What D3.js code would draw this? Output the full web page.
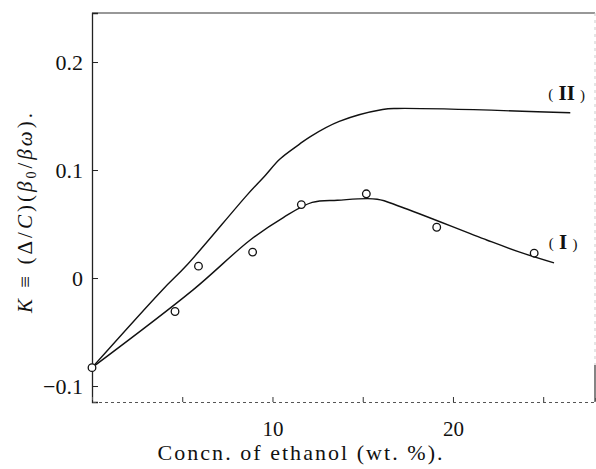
<!DOCTYPE html>
<html><head><meta charset="utf-8">
<script src="https://cdn.jsdelivr.net/npm/d3@7"></script>
<style>
body{margin:0;background:#fff;}
svg{display:block;}
text{font-family:"Liberation Serif","DejaVu Serif",serif;fill:#111;}
</style></head>
<body>
<svg id="c" width="596" height="469"></svg>
<script>
// Data
const pointsX = [0, 4.6, 5.9, 8.9, 11.6, 15.2, 19.1, 24.5];
const pointsY = [-0.083, -0.031, 0.011, 0.024, 0.068, 0.078, 0.047, 0.023];
const curveIX = [0, 5.6, 8.75, 10.6, 12.2, 13.6, 15.8, 17.1, 21.9, 23.7, 25.6];
const curveIY = [-0.083, -0.011, 0.035, 0.056, 0.070, 0.072, 0.073, 0.066, 0.035, 0.024, 0.014];
const curveIIX = [0, 3.9, 5.26, 8.6, 9.6, 10.4, 11.5, 12.1, 13.7, 16.1, 16.9, 26.5];
const curveIIY = [-0.083, -0.011, 0.012, 0.077, 0.095, 0.110, 0.124, 0.131, 0.145, 0.156, 0.157, 0.153];
const yTicks = [-0.1, 0, 0.1, 0.2];
const yTickLabels = ["\u22120.1", "0", "0.1", "0.2"];
const xTicks = [5, 10, 15, 20, 25];
const xTickLabels = ["", "10", "", "20", ""];
const seriesLabels = [{name:"II", x:26.3, y:0.171}, {name:"I", x:26.1, y:0.033}];

const svg = d3.select("#c");
const L = 92, R = 595, T = 13, B = 402;
const x = d3.scaleLinear().domain([0, 27.87]).range([L, R]);
const y = d3.scaleLinear().domain([-0.1148, 0.2454]).range([B, T]);
const SERIF = "'Liberation Serif', 'DejaVu Serif', serif";

// frame
svg.append("line").attr("x1",L).attr("x2",R).attr("y1",T).attr("y2",T)
  .attr("stroke","#333").attr("stroke-width",1.2);
svg.append("line").attr("x1",R).attr("x2",R).attr("y1",T).attr("y2",365)
  .attr("stroke","#ccc").attr("stroke-width",1).attr("stroke-dasharray","3,4");
svg.append("line").attr("x1",R).attr("x2",R).attr("y1",365).attr("y2",B)
  .attr("stroke","#333").attr("stroke-width",1.2);

const yAxis = d3.axisLeft(y).tickValues(yTicks).tickSize(-6).tickPadding(9)
  .tickFormat((d,i)=>yTickLabels[i]);
const gy = svg.append("g").attr("transform",`translate(${L},0)`).call(yAxis);
gy.attr("font-family", SERIF);
gy.select(".domain").attr("stroke","#222").attr("stroke-width",1.3);
gy.selectAll(".tick line").attr("stroke","#222");
gy.selectAll(".tick text").attr("font-size",22).style("font-family",SERIF).attr("fill","#111");

const xAxis = d3.axisBottom(x).tickValues(xTicks).tickSize(-5).tickPadding(19)
  .tickFormat((d,i)=>xTickLabels[i]);
const gx = svg.append("g").attr("transform",`translate(0,${B})`).call(xAxis);
gx.attr("font-family", SERIF);
gx.select(".domain").attr("stroke","#555").attr("stroke-width",1).attr("stroke-dasharray","3,3");
gx.selectAll(".tick line").attr("stroke","#333");
gx.selectAll(".tick text").attr("font-size",21).style("font-family",SERIF).attr("fill","#111");

// curves
const line = d3.line().x(d=>x(d[0])).y(d=>y(d[1])).curve(d3.curveCatmullRom.alpha(0.5));
svg.append("path").datum(curveIX.map((v,i)=>[v,curveIY[i]]))
  .attr("d",line).attr("fill","none").attr("stroke","#111").attr("stroke-width",1.4);
svg.append("path").datum(curveIIX.map((v,i)=>[v,curveIIY[i]]))
  .attr("d",line).attr("fill","none").attr("stroke","#111").attr("stroke-width",1.4);

// points
svg.append("g").selectAll("circle").data(pointsX.map((v,i)=>[v,pointsY[i]])).join("circle")
  .attr("cx",d=>x(d[0])).attr("cy",d=>y(d[1])).attr("r",3.8)
  .attr("fill","#fff").attr("stroke","#111").attr("stroke-width",1.3);

// series labels
seriesLabels.forEach(s=>{
  const t = svg.append("text").attr("x",x(s.x)).attr("y",y(s.y)+7)
    .attr("text-anchor","middle").attr("font-size",21).style("font-family",SERIF);
  t.append("tspan").attr("font-size",15).attr("dy",-1).text("(");
  t.append("tspan").attr("font-weight","bold").attr("dy",1).text(" " + s.name + " ");
  t.append("tspan").attr("font-size",15).text(")");
});

// axis titles
svg.append("text").attr("x",300).attr("y",460).attr("text-anchor","middle")
  .attr("font-size",22).attr("textLength",285).attr("lengthAdjust","spacing")
  .style("font-family",SERIF)
  .text("Concn. of ethanol (wt. %).");

const yl = svg.append("text").attr("transform","translate(32,213) rotate(-90)")
  .attr("text-anchor","middle").attr("font-size",21).attr("textLength",200).attr("lengthAdjust","spacing")
  .style("font-family",SERIF);
yl.append("tspan").attr("font-style","italic").text("K");
yl.append("tspan").text(" \u2261 (\u0394/");
yl.append("tspan").attr("font-style","italic").text("C");
yl.append("tspan").text(")(");
yl.append("tspan").attr("font-style","italic").text("\u03b2");
yl.append("tspan").attr("font-size",14).attr("dy",4).text("0");
yl.append("tspan").attr("dy",-4).text("/");
yl.append("tspan").attr("font-style","italic").text("\u03b2\u03c9");
yl.append("tspan").text(").");
</script>
</body></html>
